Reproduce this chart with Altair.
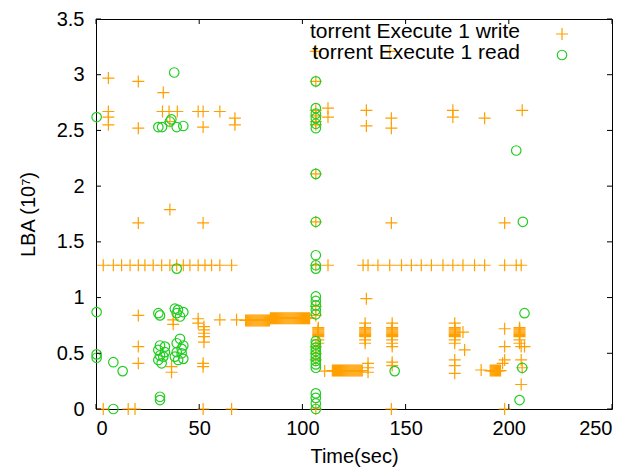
import altair as alt
import pandas as pd

ORANGE = "#FFA000"
GREEN = "#22CC22"
FONT = "Liberation Sans"

x_ticks = [0, 50, 100, 150, 200, 250]
y_ticks = [0, 0.5, 1, 1.5, 2, 2.5, 3, 3.5]
legend_labels = ["torrent Execute 1 write", "torrent Execute 1 read"]

# ---- write series: isolated samples (time s, LBA 1e7)
write_t = [6.0, 20.5, 32.6, 6.0, 6.0, 6.0, 20.5, 32.2, 35.4, 39.4, 35.8,
           49.5, 51.9, 51.9, 60.0, 67.3, 67.3,
           106.5, 106.5, 106.5, 106.5, 106.5, 106.5, 106.5,
           112.4, 112.4, 131.0, 131.0, 142.3, 143.1, 143.1,
           172.9, 172.9, 188.3, 206.5,
           20.5, 35.8, 51.9, 106.5, 143.1, 198.0,
           3.5, 8.4, 12.4, 16.5, 20.5, 23.7, 27.7, 31.8, 35.8, 39.1, 42.3, 45.5,
           49.5, 52.8, 56.0, 60.0, 65.7, 106.5,
           112.4, 129.4, 131.8, 136.6, 142.3, 148.0, 152.8, 157.6, 162.5, 168.1,
           172.9, 177.8, 183.4, 188.3, 198.0, 203.6, 206.0,
           131.0,
           20.5, 37.4, 37.4, 49.5, 49.5, 60.0, 68.1,
           52.3, 52.3, 52.3, 52.3, 52.3,
           20.5, 20.5, 36.6, 36.6, 51.9, 51.9,
           106.5, 106.5, 106.5, 106.5, 106.5, 106.5,
           110.8, 130.4, 131.8, 131.8, 131.8,
           143.5, 143.5, 143.5, 143.5,
           173.8, 177.8, 178.6, 173.8, 173.8, 173.8,
           186.6, 198.0, 198.0, 198.0, 197.0, 206.0, 207.6, 206.0, 206.5, 206.0,
           3.5, 15.6, 18.9, 51.9, 65.7, 143.1, 198.0]
write_v = [2.97, 2.94, 2.84, 2.67, 2.62, 2.55, 2.52, 2.67, 2.67, 2.67, 2.58,
           2.67, 2.67, 2.53, 2.67, 2.61, 2.55,
           3.21, 2.94, 2.68, 2.63, 2.58, 2.55, 2.11,
           2.70, 2.62, 2.68, 2.54, 3.21, 2.61, 2.52,
           2.68, 2.62, 2.61, 2.68,
           1.67, 1.79, 1.67, 1.68, 1.67, 1.67,
           1.29, 1.29, 1.29, 1.29, 1.29, 1.29, 1.29, 1.29, 1.29, 1.29, 1.29, 1.29,
           1.29, 1.29, 1.29, 1.29, 1.29, 1.29,
           1.29, 1.29, 1.29, 1.29, 1.29, 1.29, 1.29, 1.29, 1.29, 1.29,
           1.29, 1.29, 1.29, 1.29, 1.29, 1.29, 1.29,
           0.99,
           0.84, 0.80, 0.76, 0.81, 0.77, 0.80, 0.80,
           0.74, 0.71, 0.68, 0.65, 0.60,
           0.56, 0.41, 0.38, 0.33, 0.41, 0.38,
           0.84, 0.92, 0.56, 0.50, 0.44, 0.0,
           0.34, 0.77, 0.41, 0.37, 0.33,
           0.77, 0.56, 0.42, 0.39,
           0.77, 0.69, 0.53, 0.44, 0.39, 0.32,
           0.35, 0.72, 0.56, 0.44, 0.41, 0.56, 0.56, 0.44, 0.37, 0.22,
           0.0, 0.0, 0.0, 0.0, 0.0, 0.0, 0.0]

# ---- write series: dense bursts (sample times, constant LBA per burst)
burst1a_t = [72.5, 73.0, 73.5, 74.0, 74.5, 75.0, 75.5, 76.0, 76.5, 77.0, 77.5, 78.0,
             78.5, 79.0, 79.5, 80.0, 80.5, 81.0, 81.5, 82.0, 82.5, 83.0, 83.5, 84.0]
burst1a_v = 0.795
burst1b_t = [84.5, 85.0, 85.5, 86.0, 86.5, 87.0, 87.5, 88.0, 88.5, 89.0, 89.5, 90.0,
             90.5, 91.0, 91.5, 92.0, 92.5, 93.0, 93.5, 94.0, 94.5, 95.0, 95.5, 96.0,
             96.5, 97.0, 97.5, 98.0, 98.5, 99.0, 99.5, 100.0, 100.5, 101.0, 101.5,
             102.0, 102.5, 103.0, 103.5]
burst1b_v = 0.815
burst2_t = [114.5, 115.0, 115.5, 116.0, 116.5, 117.0, 117.5, 118.0, 118.5, 119.0, 119.5,
            120.0, 120.5, 121.0, 121.5, 122.0, 122.5, 123.0, 123.5, 124.0, 124.5,
            125.0, 125.5, 126.0, 126.5, 127.0, 127.5, 128.0, 128.5, 129.0]
burst2_v = 0.345
burst3_t = [191.0, 191.5, 192.0, 192.5, 193.0, 193.5, 194.0, 194.5, 195.0, 195.5, 196.0]
burst3_v = 0.345

# ---- write series: stacked bursts (same time, many nearby LBAs)
stack_t = [107.7, 130.4, 143.5, 173.8, 205.2]
stack_v = [0.73, 0.72, 0.71, 0.70, 0.69, 0.68, 0.67, 0.66, 0.65, 0.62, 0.59]

# ---- read series
read_t = [0.3, 37.9, 30.2, 32.0, 35.8, 36.5, 39.1, 42.3,
          106.5, 106.5, 106.5, 106.5, 106.5, 106.5, 106.5, 106.5, 106.5, 106.5,
          106.5, 106.5, 106.5, 106.5, 106.5, 106.5, 106.5, 106.5, 106.5, 106.5,
          106.5, 106.5, 106.5, 106.5, 106.5, 106.5, 106.5, 106.5, 106.5,
          39.1, 0.3, 0.3, 0.3, 8.4, 12.9, 8.4,
          30.2, 31.0,
          31.0, 30.2, 31.0, 30.2, 31.8, 33.4, 32.6, 33.4,
          38.2, 39.1, 42.3, 40.7, 39.7,
          40.7, 39.1, 42.3, 39.1, 41.5, 39.8, 42.3, 38.2, 41.5,
          31.0, 31.0,
          144.7, 206.8, 203.6, 207.6, 206.5, 205.2]
read_v = [2.62, 3.02, 2.53, 2.53, 2.58, 2.60, 2.53, 2.54,
          2.94, 2.70, 2.65, 2.61, 2.56, 2.52, 2.11, 1.68, 1.38, 1.29,
          1.26, 1.01, 0.97, 0.93, 0.89, 0.85, 0.61, 0.58, 0.55, 0.52,
          0.49, 0.46, 0.43, 0.40, 0.37, 0.14, 0.10, 0.05, 0.0,
          1.26, 0.87, 0.49, 0.46, 0.42, 0.34, 0.0,
          0.86, 0.84,
          0.57, 0.53, 0.48, 0.44, 0.41, 0.51, 0.47, 0.56,
          0.90, 0.86, 0.87, 0.83, 0.89,
          0.63, 0.59, 0.57, 0.51, 0.50, 0.44, 0.45, 0.47, 0.54,
          0.11, 0.08,
          0.34, 1.68, 2.32, 0.86, 0.37, 0.08]

# ---- build tables
wt, wv = list(write_t), list(write_v)
for ts, v in [(burst1a_t, burst1a_v), (burst1b_t, burst1b_v),
              (burst2_t, burst2_v), (burst3_t, burst3_v)]:
    wt += ts
    wv += [v] * len(ts)
for t in stack_t:
    wt += [t] * len(stack_v)
    wv += stack_v
write_df = pd.DataFrame({"t": wt, "v": wv})
read_df = pd.DataFrame({"t": read_t, "v": read_v})

xs = alt.Scale(domain=[0, 250], nice=False, zero=False)
ys = alt.Scale(domain=[0, 3.5], nice=False, zero=False)

PLUS = "M-1,0L1,0M0,-1L0,1"

write_layer = alt.Chart(write_df).mark_point(
    shape=PLUS, size=144, color=ORANGE, strokeWidth=1.2, opacity=1, filled=False
).encode(
    x=alt.X("t:Q", scale=xs, title="Time(sec)",
            axis=alt.Axis(values=x_ticks, format="d")),
    y=alt.Y("v:Q", scale=ys, title="LBA (10⁷)",
            axis=alt.Axis(values=y_ticks, format="~g")),
)

read_layer = alt.Chart(read_df).mark_point(
    shape="circle", size=90, color=GREEN, strokeWidth=1.2, opacity=1, filled=False
).encode(x=alt.X("t:Q", scale=xs), y=alt.Y("v:Q", scale=ys))

W, H = 516, 390
TL = 5
xt_df = pd.DataFrame({"t": x_ticks})
yt_df = pd.DataFrame({"v": y_ticks})
tick_bottom = alt.Chart(xt_df).mark_rule(color="black").encode(
    x=alt.X("t:Q", scale=xs), y=alt.value(H), y2=alt.value(H - TL))
tick_top = alt.Chart(xt_df).mark_rule(color="black").encode(
    x=alt.X("t:Q", scale=xs), y=alt.value(0), y2=alt.value(TL))
tick_left = alt.Chart(yt_df).mark_rule(color="black").encode(
    y=alt.Y("v:Q", scale=ys), x=alt.value(0), x2=alt.value(TL))
tick_right = alt.Chart(yt_df).mark_rule(color="black").encode(
    y=alt.Y("v:Q", scale=ys), x=alt.value(W), x2=alt.value(W - TL))

one = pd.DataFrame({"a": [0]})
leg_text1 = alt.Chart(one).mark_text(align="right", baseline="middle", font=FONT,
                                     fontSize=21, color="black").encode(
    x=alt.value(424), y=alt.value(13), text=alt.value(legend_labels[0]))
leg_text2 = alt.Chart(one).mark_text(align="right", baseline="middle", font=FONT,
                                     fontSize=21, color="black").encode(
    x=alt.value(424), y=alt.value(34), text=alt.value(legend_labels[1]))
leg_sym1 = alt.Chart(one).mark_point(shape=PLUS, size=144, color=ORANGE,
                                     strokeWidth=1.2, opacity=1, filled=False).encode(
    x=alt.value(466), y=alt.value(15))
leg_sym2 = alt.Chart(one).mark_point(shape="circle", size=90, color=GREEN,
                                     strokeWidth=1.2, opacity=1, filled=False).encode(
    x=alt.value(466), y=alt.value(36))

chart = alt.layer(
    write_layer, read_layer, tick_bottom, tick_top, tick_left, tick_right,
    leg_text1, leg_text2, leg_sym1, leg_sym2
).properties(
    width=W, height=H,
    padding={"left": 96, "top": 19, "right": 16, "bottom": 63},
    autosize=alt.AutoSizeParams(type="none"),
    background="white",
).configure_view(
    stroke="black", strokeWidth=1
).configure_axis(
    grid=False, ticks=False, domain=False,
    labelFont=FONT, labelFontSize=20, labelColor="black",
    titleFont=FONT, titleFontSize=20, titleFontWeight="normal", titleColor="black",
).configure_axisX(
    labelPadding=9, titlePadding=8,
).configure_axisY(
    labelPadding=12, titlePadding=18,
)

chart.save("out.html", embed_options={"renderer": "svg", "actions": False})
